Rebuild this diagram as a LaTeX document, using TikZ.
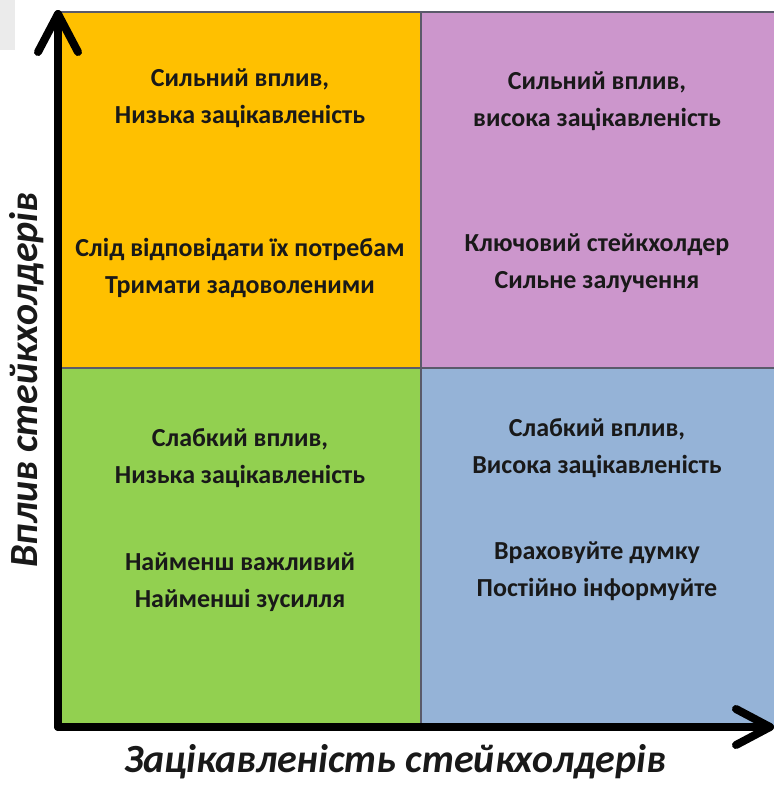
\documentclass[tikz,border=0pt]{standalone}
\usepackage{fontspec}
\usetikzlibrary{calc}
\setmainfont{Carlito}
\definecolor{qorange}{HTML}{FFC000}
\definecolor{qpink}{HTML}{CC96CC}
\definecolor{qgreen}{HTML}{92D050}
\definecolor{qblue}{HTML}{95B3D7}
\definecolor{qedge}{HTML}{5A5A6A}
\begin{document}
\begin{tikzpicture}[x=1pt,y=-1pt,
  quad/.style={draw=qedge,line width=1.2pt},
  qtext/.style={font=\bfseries\fontsize{26}{37}\selectfont,align=center,text=black!90},
  axislabel/.style={font=\bfseries\itshape\fontsize{40}{44}\selectfont,text=black!90},
  axisline/.style={line width=8pt,line cap=round,line join=round}]
\useasboundingbox (0,0) rectangle (774,785);
\fill[black!8] (0,0) rectangle (15,50);
% quadrants
\filldraw[quad,fill=qorange] (60,12) rectangle (421,368);
\filldraw[quad,fill=qpink] (421,12) rectangle (776,368);
\filldraw[quad,fill=qgreen] (60,368) rectangle (421,727);
\filldraw[quad,fill=qblue] (421,368) rectangle (776,727);
% axes
\coordinate (o) at (58,727);
\coordinate (ytip) at (58,14);
\coordinate (xtip) at (770,727);
\draw[axisline] (o) -- (ytip);
\draw[axisline] ($(ytip)+(-20,38)$) -- (ytip) -- ($(ytip)+(20,38)$);
\draw[axisline] (o) -- (xtip);
\draw[axisline] ($(xtip)+(-34,-18)$) -- (xtip) -- ($(xtip)+(-34,18)$);
% texts
\node[qtext] (tl1) at (240,98) {Сильний вплив,\\Низька зацікавленість};
\node[qtext] (tl2) at (240,268) {Слід відповідати їх потребам\\Тримати задоволеними};
\node[qtext] (tr1) at (597,101) {Сильний вплив,\\висока зацікавленість};
\node[qtext] (tr2) at (597,263) {Ключовий стейкхолдер\\Сильне залучення};
\node[qtext] (bl1) at (240,458) {Слабкий вплив,\\Низька зацікавленість};
\node[qtext] (bl2) at (240,582) {Найменш важливий\\Найменші зусилля};
\node[qtext] (br1) at (597,448) {Слабкий вплив,\\Висока зацікавленість};
\node[qtext] (br2) at (597,571) {Враховуйте думку\\Постійно інформуйте};
\node[axislabel] (xl) at (395,762) {Зацікавленість стейкхолдерів};
\node[axislabel,rotate=90] (yl) at (27,380) {Вплив стейкхолдерів};
\end{tikzpicture}
\end{document}
